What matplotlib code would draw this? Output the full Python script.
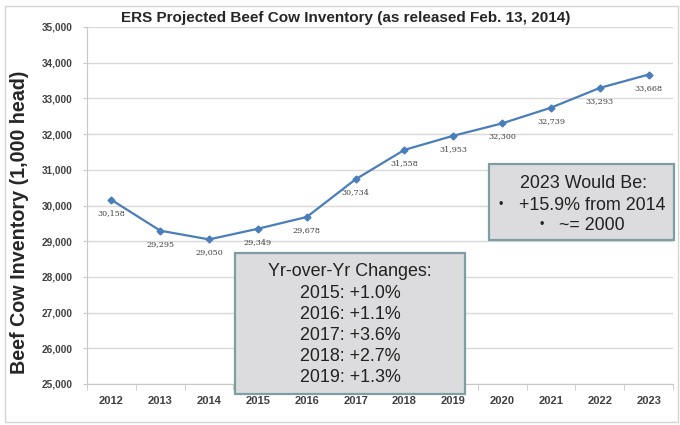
import matplotlib.pyplot as plt
from matplotlib.patches import Rectangle

# ERS projected beef cow inventory, 1,000 head
years = ['2012', '2013', '2014', '2015', '2016', '2017',
         '2018', '2019', '2020', '2021', '2022', '2023']
inventory = [30158, 29295, 29050, 29349, 29678, 30734,
             31558, 31953, 32300, 32739, 33293, 33668]
yoy_lines = ['Yr-over-Yr Changes:', '2015: +1.0%', '2016: +1.1%',
             '2017: +3.6%', '2018: +2.7%', '2019: +1.3%']

plt.rcParams['font.family'] = ['Liberation Sans', 'DejaVu Sans']

W, H = 680, 425
fig = plt.figure(figsize=(6.8, 4.25), dpi=100)
ax = fig.add_axes([87 / W, 1 - 384 / H, (673 - 87) / W, (384 - 27) / H])

x = list(range(len(years)))
ax.plot(x, inventory, color='#4a7ebb', lw=1.6, marker='D', ms=3.5, zorder=3)
for xi, v in zip(x, inventory):
    ax.annotate(f'{v:,}', (xi, v), xytext=(0, -9.5), textcoords='offset points',
                ha='center', va='center', fontsize=5.8, color='#404040',
                family='DejaVu Serif')

ax.set_xlim(-0.5, len(years) - 0.5)
ax.set_ylim(25000, 35000)
ax.set_yticks(range(25000, 35001, 1000))
ax.set_yticklabels([f'{t:,}' for t in range(25000, 35001, 1000)],
                   fontsize=7.2, color='#404040', fontweight='bold')
ax.set_xticks(x)
ax.set_xticklabels(years, fontsize=8, color='#404040', fontweight='bold')
ax.set_xticks([i - 0.5 for i in range(len(years) + 1)], minor=True)
ax.tick_params(axis='x', which='major', length=0, pad=9)
ax.tick_params(axis='x', which='minor', length=4, color='#c8c8c8')
ax.tick_params(axis='y', length=3, color='#c8c8c8', pad=7.5)
ax.grid(axis='y', color='#d9d9d9', lw=1)
ax.set_axisbelow(True)
for s in ['top', 'right']:
    ax.spines[s].set_visible(False)
for s in ['left', 'bottom']:
    ax.spines[s].set_color('#c8c8c8')

fig.text(346 / W, 1 - 18 / H,
         'ERS Projected Beef Cow Inventory (as released Feb. 13, 2014)',
         ha='center', va='center', fontsize=11, fontweight='bold', color='#262626')
fig.text(20 / W, 1 - 222 / H, 'Beef Cow Inventory (1,000 head)', rotation=90,
         ha='center', va='center', fontsize=14.2, fontweight='bold', color='#262626')

# outer frame
fig.patches.append(Rectangle((5 / W, 3 / H), 673 / W, 416 / H, transform=fig.transFigure,
                             fill=False, ec='#d4d4d4', lw=1))

# year-over-year box
fig.patches.append(Rectangle((235 / W, 1 - 394 / H), 230 / W, 141 / H,
                             transform=fig.transFigure, fc='#dcdcde', ec='#7f9ea4',
                             lw=1.6, zorder=5))
for i, line in enumerate(yoy_lines):
    fig.text(350 / W, 1 - (272 + i * 21.2) / H, line, ha='center', va='center',
             fontsize=12.9, color='#222222', zorder=6)

# 2023 summary box
fig.patches.append(Rectangle((489 / W, 1 - 240 / H), 185 / W, 76 / H,
                             transform=fig.transFigure, fc='#dcdcde', ec='#7f9ea4',
                             lw=1.6, zorder=5))
fig.text(583 / W, 1 - 183 / H, '2023 Would Be:', ha='center', va='center',
         fontsize=12.9, color='#222222', zorder=6)
fig.text(501 / W, 1 - 205 / H, '•', ha='center', va='center',
         fontsize=9, color='#222222', zorder=6)
fig.text(592 / W, 1 - 205 / H, '+15.9% from 2014', ha='center', va='center',
         fontsize=12.9, color='#222222', zorder=6)
fig.text(542 / W, 1 - 225 / H, '•', ha='center', va='center',
         fontsize=9, color='#222222', zorder=6)
fig.text(592 / W, 1 - 225 / H, '~= 2000', ha='center', va='center',
         fontsize=12.9, color='#222222', zorder=6)

fig.savefig('out.png', dpi=100)
